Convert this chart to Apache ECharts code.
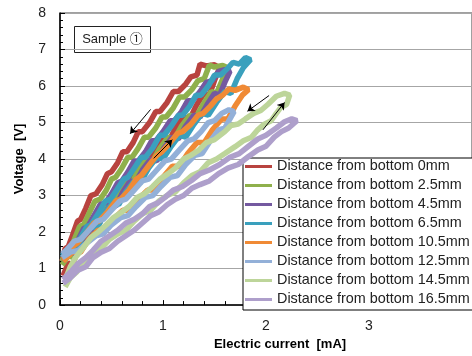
<!DOCTYPE html>
<html>
<head>
<meta charset="utf-8">
<script src="https://cdn.jsdelivr.net/npm/echarts@6/dist/echarts.min.js"></script>
<style>
  html, body { margin: 0; padding: 0; background: #fff; }
  #chart { width: 472px; height: 356px; }
</style>
</head>
<body>
<div id="chart"></div>
<script>
// series names (legend order)
const names = [
  'Distance from bottom 0mm',
  'Distance from bottom 2.5mm',
  'Distance from bottom 4.5mm',
  'Distance from bottom 6.5mm',
  'Distance from bottom 10.5mm',
  'Distance from bottom 12.5mm',
  'Distance from bottom 14.5mm',
  'Distance from bottom 16.5mm'
]
const colors = ['#b8433f', '#8fb04c', '#7459a0', '#3aa0bd', '#f08a35', '#93b0d8', '#bdd59a', '#ae9fcb']

// [current mA, voltage V] loops: up branch, then back down
const d0mm = [[0.03,0.8],[0.08,1.15],[0.12,1.1],[0.18,1.55],[0.25,1.95],[0.3,1.9],[0.36,2.35],[0.42,2.6],[0.47,2.55],[0.53,2.95],[0.6,3.25],[0.65,3.2],[0.72,3.6],[0.8,3.95],[0.86,3.9],[0.92,4.25],[1.0,4.55],[1.06,4.5],[1.12,4.85],[1.2,5.15],[1.26,5.1],[1.32,5.45],[1.4,5.8],[1.45,5.75],[1.5,6.15],[1.55,6.5],
  [1.5,6.58],[1.42,6.55],[1.36,6.6],
  [1.33,6.3],[1.27,6.25],[1.22,6.05],[1.15,5.85],[1.1,5.85],[1.04,5.55],[0.97,5.3],[0.93,5.3],[0.87,5.0],[0.8,4.75],[0.76,4.75],[0.71,4.45],[0.65,4.2],[0.61,4.2],[0.56,3.9],[0.5,3.65],[0.46,3.6],[0.41,3.3],[0.35,3.05],[0.3,3.0],[0.25,2.65],[0.2,2.35],[0.17,2.3],[0.12,1.9],[0.08,1.6],[0.05,1.55],[0.02,1.2]]
const d2_5mm = [[0.02,1.1],[0.08,1.35],[0.14,1.3],[0.2,1.7],[0.27,2.05],[0.32,2.0],[0.38,2.4],[0.45,2.7],[0.5,2.65],[0.57,3.05],[0.64,3.35],[0.69,3.3],[0.76,3.7],[0.84,4.0],[0.9,3.95],[0.97,4.3],[1.05,4.6],[1.11,4.55],[1.18,4.9],[1.26,5.2],[1.32,5.15],[1.39,5.5],[1.47,5.85],[1.52,5.8],[1.58,6.2],[1.63,6.5],
  [1.58,6.56],[1.5,6.52],[1.45,6.57],
  [1.4,6.2],[1.34,6.15],[1.28,5.9],[1.21,5.7],[1.16,5.7],[1.1,5.4],[1.03,5.15],[0.99,5.15],[0.93,4.85],[0.86,4.6],[0.82,4.6],[0.76,4.3],[0.7,4.05],[0.66,4.05],[0.6,3.75],[0.54,3.5],[0.5,3.45],[0.45,3.15],[0.39,2.9],[0.34,2.85],[0.28,2.5],[0.23,2.2],[0.19,2.15],[0.14,1.8],[0.1,1.55],[0.06,1.5],[0.02,1.2]]
const d4_5mm = [[0.03,1.2],[0.1,1.45],[0.16,1.4],[0.23,1.8],[0.3,2.1],[0.35,2.05],[0.42,2.45],[0.49,2.75],[0.54,2.7],[0.61,3.1],[0.68,3.4],[0.73,3.35],[0.8,3.7],[0.88,4.0],[0.94,3.95],[1.01,4.3],[1.09,4.6],[1.15,4.55],[1.22,4.9],[1.3,5.2],[1.36,5.15],[1.43,5.5],[1.5,5.8],[1.55,5.75],[1.6,6.1],[1.65,6.4],
  [1.6,6.45],[1.54,6.4],
  [1.48,6.15],[1.42,6.1],[1.36,5.85],[1.29,5.6],[1.24,5.6],[1.18,5.3],[1.11,5.05],[1.07,5.05],[1.0,4.75],[0.93,4.5],[0.89,4.5],[0.83,4.2],[0.76,3.95],[0.72,3.95],[0.66,3.65],[0.6,3.4],[0.56,3.35],[0.5,3.05],[0.44,2.8],[0.39,2.75],[0.33,2.45],[0.27,2.15],[0.23,2.1],[0.17,1.75],[0.12,1.5],[0.08,1.45],[0.03,1.25]]
const d6_5mm = [[0.02,1.3],[0.09,1.55],[0.15,1.5],[0.22,1.85],[0.3,2.15],[0.36,2.1],[0.43,2.5],[0.51,2.8],[0.57,2.75],[0.64,3.1],[0.72,3.4],[0.78,3.35],[0.86,3.75],[0.94,4.05],[1.0,4.0],[1.08,4.35],[1.16,4.65],[1.22,4.6],[1.3,4.95],[1.38,5.25],[1.44,5.2],[1.52,5.55],[1.6,5.85],[1.66,5.8],[1.72,6.2],[1.78,6.5],[1.85,6.72],
  [1.8,6.78],[1.74,6.6],[1.68,6.65],[1.63,6.49],
  [1.56,6.3],[1.5,6.3],[1.44,6.0],[1.37,5.75],[1.32,5.75],[1.26,5.45],[1.19,5.2],[1.15,5.2],[1.08,4.9],[1.01,4.65],[0.97,4.65],[0.9,4.3],[0.83,4.05],[0.79,4.05],[0.72,3.75],[0.66,3.5],[0.62,3.45],[0.55,3.15],[0.49,2.9],[0.44,2.85],[0.37,2.5],[0.3,2.2],[0.26,2.15],[0.19,1.8],[0.12,1.6],[0.08,1.55],[0.02,1.35]]
const d10_5mm = [[0.03,1.2],[0.12,1.45],[0.2,1.45],[0.28,1.8],[0.37,2.05],[0.44,2.05],[0.52,2.35],[0.61,2.6],[0.68,2.6],[0.76,2.9],[0.85,3.15],[0.92,3.15],[1.0,3.5],[1.09,3.8],[1.16,3.8],[1.24,4.15],[1.33,4.45],[1.4,4.45],[1.48,4.8],[1.57,5.1],[1.63,5.1],[1.7,5.45],[1.77,5.75],[1.83,5.9],
  [1.78,5.97],[1.7,5.88],[1.64,5.92],
  [1.58,5.75],[1.52,5.65],[1.46,5.45],[1.39,5.25],[1.34,5.2],[1.27,4.95],[1.19,4.75],[1.14,4.7],[1.07,4.45],[0.99,4.2],[0.94,4.1],[0.87,3.85],[0.79,3.55],[0.74,3.45],[0.67,3.15],[0.59,2.9],[0.54,2.85],[0.46,2.55],[0.38,2.3],[0.33,2.25],[0.25,1.95],[0.17,1.7],[0.12,1.6],[0.03,1.25]]
const d12_5mm = [[0.02,1.3],[0.1,1.45],[0.18,1.5],[0.26,1.7],[0.35,1.9],[0.42,1.95],[0.5,2.2],[0.59,2.4],[0.66,2.45],[0.74,2.7],[0.83,2.95],[0.9,3.0],[0.98,3.25],[1.07,3.5],[1.14,3.55],[1.22,3.85],[1.31,4.1],[1.38,4.15],[1.46,4.5],[1.54,4.8],[1.6,4.85],[1.66,5.15],[1.69,5.3],
  [1.64,5.35],[1.57,5.25],
  [1.5,5.05],[1.44,5.0],[1.37,4.75],[1.3,4.55],[1.24,4.5],[1.16,4.25],[1.08,4.0],[1.02,3.95],[0.94,3.7],[0.86,3.45],[0.8,3.4],[0.72,3.15],[0.64,2.9],[0.58,2.85],[0.5,2.6],[0.42,2.35],[0.36,2.3],[0.28,2.05],[0.2,1.8],[0.14,1.75],[0.06,1.5],[0.02,1.4]]
const d14_5mm = [[0.05,0.5],[0.1,0.75],[0.16,0.9],[0.24,1.2],[0.32,1.45],[0.4,1.55],[0.48,1.8],[0.56,1.95],[0.64,2.05],[0.72,2.3],[0.8,2.5],[0.88,2.6],[0.96,2.85],[1.04,3.0],[1.12,3.1],[1.2,3.35],[1.28,3.55],[1.36,3.65],[1.44,3.9],[1.52,4.0],[1.6,4.15],[1.7,4.34],[1.78,4.5],[1.86,4.6],[1.92,4.8],[1.98,4.95],[2.05,5.05],[2.1,5.25],[2.14,5.4],[2.2,5.5],[2.23,5.75],
  [2.18,5.8],[2.1,5.72],
  [2.02,5.5],[1.95,5.33],[1.88,5.25],[1.8,5.1],[1.73,4.96],[1.66,4.92],[1.6,4.75],[1.5,4.53],[1.42,4.45],[1.35,4.25],[1.27,4.1],[1.2,4.0],[1.12,3.75],[1.05,3.6],[0.97,3.45],[0.9,3.25],[0.82,3.05],[0.75,2.95],[0.67,2.7],[0.6,2.55],[0.52,2.4],[0.45,2.2],[0.37,2.0],[0.3,1.85],[0.22,1.55],[0.15,1.3],[0.1,1.05],[0.05,0.7]]
const d16_5mm = [[0.03,0.6],[0.1,0.75],[0.17,0.95],[0.25,1.05],[0.32,1.3],[0.4,1.45],[0.48,1.55],[0.56,1.75],[0.64,1.9],[0.72,2.05],[0.8,2.25],[0.88,2.45],[0.96,2.55],[1.04,2.75],[1.12,2.9],[1.2,3.0],[1.28,3.2],[1.36,3.3],[1.45,3.4],[1.54,3.6],[1.63,3.75],[1.73,3.85],[1.83,4.07],[1.92,4.25],[2.0,4.35],[2.08,4.6],[2.15,4.75],[2.22,4.85],[2.3,5.05],
  [2.25,5.1],[2.18,5.02],
  [2.1,4.85],[2.0,4.65],[1.92,4.55],[1.83,4.35],[1.74,4.15],[1.65,4.05],[1.55,3.85],[1.45,3.7],[1.36,3.6],[1.28,3.42],[1.19,3.25],[1.1,3.15],[1.02,2.95],[0.95,2.8],[0.87,2.7],[0.8,2.5],[0.72,2.35],[0.64,2.25],[0.56,2.05],[0.48,1.9],[0.4,1.75],[0.32,1.5],[0.25,1.3],[0.18,1.15],[0.1,0.9],[0.03,0.7]]
const loops = [d0mm, d2_5mm, d4_5mm, d6_5mm, d10_5mm, d12_5mm, d14_5mm, d16_5mm]

// annotation arrows [from, to]
const arrows = [
  [[0.88, 5.36], [0.68, 4.69]],
  [[0.91, 4.02], [1.09, 4.53]],
  [[2.03, 5.74], [1.82, 5.31]],
  [[1.97, 4.8], [2.18, 5.55]]
]

const chart = echarts.init(document.getElementById('chart'))
const font = "'Liberation Sans', Arial, sans-serif"

const series = loops.map((d, i) => ({
  name: names[i],
  type: 'line',
  data: d,
  showSymbol: false,
  symbol: 'none',
  lineStyle: { color: colors[i], width: 5.5 },
  itemStyle: { color: colors[i] },
  z: 2 + i
}))

series.push({
  type: 'lines',
  coordinateSystem: 'cartesian2d',
  silent: true,
  symbol: ['none', 'arrow'],
  symbolSize: 7,
  lineStyle: { color: '#000', width: 1, opacity: 1 },
  data: arrows.map(a => ({ coords: a })),
  z: 20
})

const option = {
  animation: false,
  backgroundColor: '#fff',
  textStyle: { fontFamily: font },
  grid: {
    left: 60,
    right: -5,
    top: 13,
    bottom: 44,
    show: true,
    borderColor: '#404040',
    borderWidth: 1
  },
  xAxis: {
    type: 'value',
    min: 0,
    max: 4,
    interval: 1,
    name: 'Electric current  [mA]',
    nameLocation: 'middle',
    nameGap: 30,
    nameTextStyle: { fontSize: 13, fontWeight: 'bold', color: '#000', padding: [0, 0, 0, 28] },
    axisLine: { lineStyle: { color: '#000', width: 1.5 } },
    axisTick: { show: true, inside: true, length: 5, lineStyle: { color: '#000' } },
    minorTick: { show: true, splitNumber: 5, length: 4, lineStyle: { color: '#000' } },
    axisLabel: { fontSize: 14, color: '#222', margin: 14, showMaxLabel: false },
    splitLine: { show: false }
  },
  yAxis: {
    type: 'value',
    min: 0,
    max: 8,
    interval: 1,
    name: 'Voltage  [V]',
    nameLocation: 'middle',
    nameGap: 34,
    nameTextStyle: { fontSize: 13, fontWeight: 'bold', color: '#000' },
    axisLine: { show: true, lineStyle: { color: '#000', width: 1.5 } },
    axisTick: { show: true, inside: true, length: 5, lineStyle: { color: '#000' } },
    minorTick: { show: true, splitNumber: 5, length: 3, lineStyle: { color: '#000' } },
    axisLabel: { fontSize: 14, color: '#222', margin: 14 },
    splitLine: { lineStyle: { color: '#a6a6a6', width: 1.2 } }
  },
  legend: {
    data: names,
    orient: 'vertical',
    left: 243,
    top: 158,
    padding: [1, 4, 3, 2],
    itemGap: 4,
    itemWidth: 27,
    itemHeight: 3,
    icon: 'rect',
    backgroundColor: '#fff',
    borderColor: '#000',
    borderWidth: 1,
    borderRadius: 0,
    textStyle: { fontSize: 14.4, color: '#222', lineHeight: 15, fontFamily: font }
  },
  graphic: [
    {
      type: 'group',
      left: 74,
      top: 26,
      children: [
        { type: 'rect', shape: { x: 0, y: 0, width: 76, height: 26 }, style: { fill: '#fff', stroke: '#222', lineWidth: 1 } },
        { type: 'text', x: 38, y: 13, style: { text: 'Sample ①', fontSize: 13, fill: '#222', align: 'center', verticalAlign: 'middle', fontFamily: "'Liberation Sans', 'Noto Sans CJK JP', sans-serif" } }
      ]
    }
  ],
  series: series
}

chart.setOption(option)
</script>
</body>
</html>
